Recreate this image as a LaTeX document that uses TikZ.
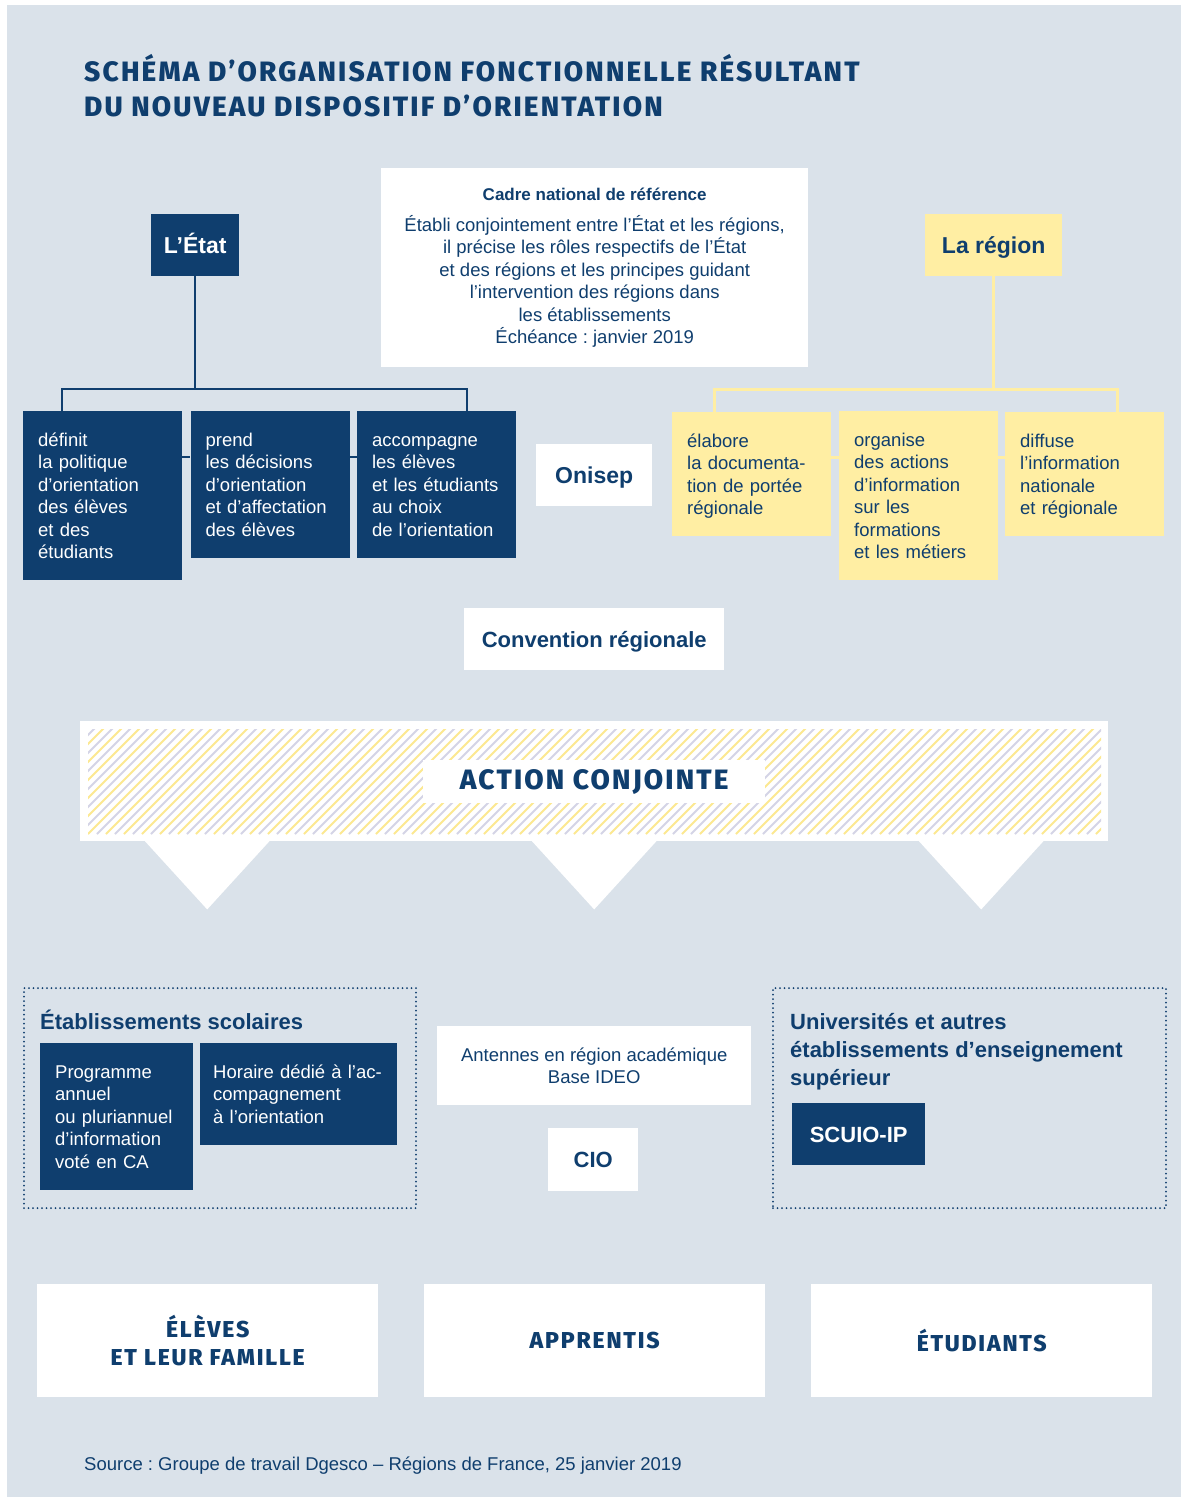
\documentclass[tikz,border=0pt]{standalone}
\usepackage{fontspec}
\setmainfont{Liberation Sans}
\newfontfamily\headfont[LetterSpace=7.8, BoldFont={* ExtraBold}]{Fira Sans}
\frenchspacing
\usetikzlibrary{positioning}
\definecolor{bgblue}{HTML}{DAE2EA}
\definecolor{dkblue}{HTML}{0F3E6E}
\definecolor{ltyellow}{HTML}{FFEEA3}
\definecolor{hatchyel}{HTML}{FCE891}
\definecolor{hatchlav}{HTML}{D4D4E6}
\tikzset{
	bodyfont/.style={font=\fontsize{18.5}{22.5}\selectfont},
	topbox/.style={anchor=north west, align=left, inner xsep=15pt, inner ysep=0pt, bodyfont,
		execute at begin node=\rule{0pt}{35pt},
		execute at end node=\rule[-21.5pt]{0pt}{0pt}},
	dkbox/.style={topbox, fill=dkblue, text=white, text width=129pt},
	ylbox/.style={topbox, fill=ltyellow, text=dkblue, text width=129pt},
	whitebox/.style={fill=white, text=dkblue, align=center, inner sep=0pt, anchor=north west},
	oneline/.style={text height=21pt, text depth=5pt},
	headbox/.style={anchor=north west, inner sep=0pt, oneline, font=\bfseries\fontsize{23}{27}\selectfont},
	bigbold/.style={font=\bfseries\fontsize{22}{28.3}\selectfont},
	capsfont/.style={font=\headfont\bfseries\fontsize{28}{35}\selectfont},
	publicfont/.style={font=\headfont\bfseries\fontsize{23}{28}\selectfont},
	frame/.style={draw=dkblue, line width=2pt, dash pattern=on 0pt off 4.5pt, line cap=round,
		anchor=north west, inner sep=0pt},
	dkline/.style={draw=dkblue, line width=2.5pt},
	ylline/.style={draw=ltyellow, line width=3pt},
}
\begin{document}
\begin{tikzpicture}[x=1pt,y=-1pt]
	\useasboundingbox (0,0) rectangle (1187,1497);
	\fill[bgblue] (7,5) rectangle (1181,1497);
	% titre
	\node[capsfont, text=dkblue, anchor=base west, inner sep=0pt] (titleA) at (84,81) {SCHÉMA D’ORGANISATION FONCTIONNELLE RÉSULTANT};
	\node[capsfont, text=dkblue, anchor=base west, inner sep=0pt] (titleB) at (84,116) {DU NOUVEAU DISPOSITIF D’ORIENTATION};
	% niveau haut
	\node[headbox, fill=dkblue, text=white, minimum width=88, minimum height=62] (etat) at (151,214) {L’État};
	\node[headbox, fill=ltyellow, text=dkblue, minimum width=137, minimum height=62] (region) at (925,214) {La région};
	\node[whitebox, bodyfont, minimum width=427, minimum height=199] (cadre) at (381,168)
		{{\bfseries\fontsize{17}{22.4}\selectfont Cadre national de référence}\\[8pt]
		Établi conjointement entre l’État et les régions,\\
		il précise les rôles respectifs de l’État\\
		et des régions et les principes guidant\\
		l’intervention des régions dans\\
		les établissements\\
		Échéance : janvier 2019};
	\coordinate (fork) at (0,389);
	\coordinate (midrow) at (0,457);
	% missions de l'Etat
	\node[dkbox] (definit) at (23,411) {définit\\la politique\\d’orientation\\des élèves\\et des\\étudiants};
	\node[dkbox, below right=0pt and 8pt of definit.north east] (prend) {prend\\les décisions\\d’orientation\\et d’affectation\\des élèves};
	\node[dkbox, below right=0pt and 7pt of prend.north east] (accomp) {accompagne\\les élèves\\et les étudiants\\au choix\\de l’orientation};
	\draw[dkline] (etat.south) -- (etat.south |- fork);
	\draw[dkline] ([xshift=39pt]definit.north west) |- ([xshift=-49pt]accomp.north east |- fork) -- ([xshift=-49pt]accomp.north east);
	\draw[dkline] (definit.east |- midrow) -- (prend.west |- midrow);
	\draw[dkline] (prend.east |- midrow) -- (accomp.west |- midrow);
	\node[whitebox, oneline, font=\bfseries\fontsize{23}{27}\selectfont, minimum width=116, minimum height=62] (onisep) at (536,444) {Onisep};
	% missions de la region
	\node[ylbox] (elabore) at (672,412) {élabore\\la documenta-\\tion de portée\\régionale};
	\node[ylbox] (organise) at (839,411) {organise\\des actions\\d’information\\sur les\\formations\\et les métiers};
	\node[ylbox] (diffuse) at (1005,412) {diffuse\\l’information\\nationale\\et régionale};
	\draw[ylline] (region.south) -- (region.south |- fork);
	\draw[ylline] ([xshift=42pt]elabore.north west) |- ([xshift=-47pt]diffuse.north east |- fork) -- ([xshift=-47pt]diffuse.north east);
	\draw[ylline] (elabore.east |- midrow) -- (organise.west |- midrow);
	\draw[ylline] (organise.east |- midrow) -- (diffuse.west |- midrow);
	\node[whitebox, bigbold, oneline, minimum width=260, minimum height=62] (convention) at (464,608) {Convention régionale};
	% action conjointe
	\node[fill=white, minimum width=1028, minimum height=120, anchor=north west, inner sep=0pt] (action) at (80,721) {};
	\foreach \dx in {-387,0,387}
		\fill[white] ([xshift=\dx-62.5, yshift=0.5]action.south) -- ([xshift=\dx+62.5, yshift=0.5]action.south) -- ([xshift=\dx, yshift=-68]action.south) -- cycle;
	\begin{scope}
		\clip (88,729) rectangle (1101,834);
		\foreach \i in {0,...,126} {
			\ifodd\i \def\hc{hatchlav}\else \def\hc{hatchyel}\fi
			\draw[\hc, line width=2pt] (-20+\i*9,834) -- ++(110,-110);
		}
	\end{scope}
	\node[whitebox, capsfont, minimum width=342, minimum height=43] (actionlbl) at (423,760) {ACTION CONJOINTE};
	% etablissements
	\node[frame, minimum width=392, minimum height=220] (etabl) at (23,987) {};
	\node[bigbold, text=dkblue, anchor=base west, inner sep=0pt] (etabltitle) at (40,1029) {Établissements scolaires};
	\node[dkbox, text width=123pt] (programme) at (40,1043) {Programme\\annuel\\ou pluriannuel\\d’information\\voté en CA};
	\node[dkbox, text width=171pt, inner xsep=13pt] (horaire) at (200,1043) {Horaire dédié à l’ac-\\compagnement\\à l’orientation};
	\node[whitebox, bodyfont, minimum width=314, minimum height=79] (antennes) at (437,1026) {Antennes en région académique\\Base IDEO};
	\node[whitebox, bigbold, oneline, minimum width=90, minimum height=63] (cio) at (548,1128) {CIO};
	\node[frame, minimum width=393, minimum height=220] (univ) at (772,987) {};
	\node[bigbold, text=dkblue, anchor=north west, align=left, inner sep=0pt, execute at begin node=\rule{0pt}{24pt}] (univtitle) at (790,1013) {Universités et autres\\établissements d’enseignement\\supérieur};
	\node[whitebox, bigbold, oneline, fill=dkblue, text=white, minimum width=133, minimum height=62] (scuio) at (792,1103) {SCUIO-IP};
	% publics
	\node[whitebox, publicfont, minimum width=341, minimum height=113] (eleves) at (37,1284) {ÉLÈVES\\ET LEUR FAMILLE};
	\node[whitebox, publicfont, minimum width=341, minimum height=113] (apprentis) at (424,1284) {APPRENTIS};
	\node[whitebox, publicfont, minimum width=341, minimum height=113] (etudiants) at (811,1284) {ÉTUDIANTS};
	\node[bodyfont, text=dkblue, anchor=base west, inner sep=0pt] (source) at (84,1470) {Source : Groupe de travail Dgesco – Régions de France, 25 janvier 2019};
\end{tikzpicture}
\end{document}
